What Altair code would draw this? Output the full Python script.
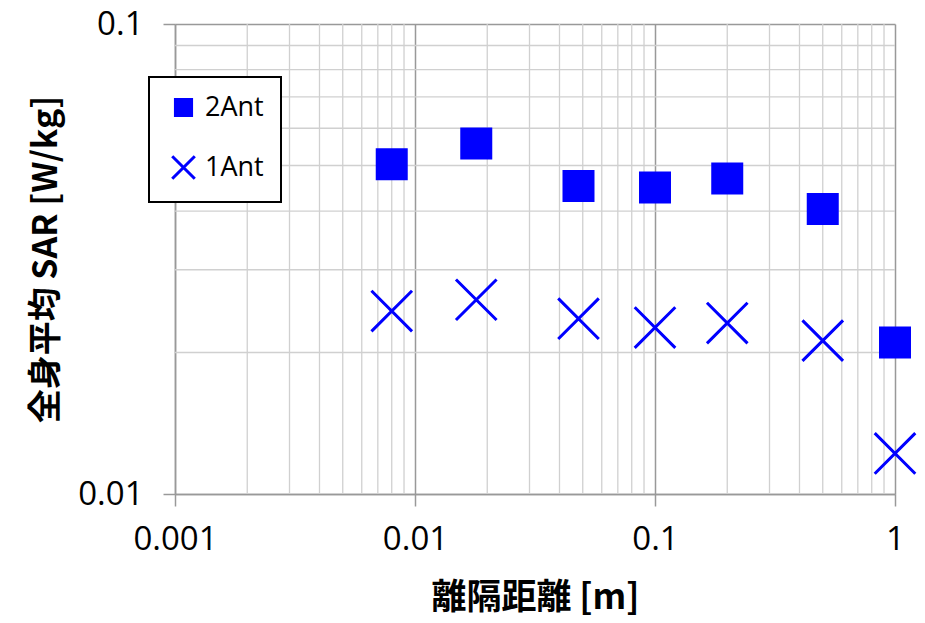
import altair as alt
import pandas as pd

# data
dist_2ant = [0.008, 0.018, 0.048, 0.1, 0.2, 0.5, 1.0]
sar_2ant = [0.0503, 0.0557, 0.0452, 0.0449, 0.0469, 0.0404, 0.021]
dist_1ant = [0.008, 0.018, 0.048, 0.1, 0.2, 0.5, 1.0]
sar_1ant = [0.0245, 0.0259, 0.0236, 0.0226, 0.0231, 0.0212, 0.0122]

series = ["2Ant", "1Ant"]
x_major = [0.001, 0.01, 0.1, 1]
y_major = [0.01, 0.1]
x_minor = [m * d for d in [0.001, 0.01, 0.1] for m in range(2, 10)]
y_minor = [m * 0.01 for m in range(2, 10)]

df = pd.DataFrame(
    {"dist": dist_2ant + dist_1ant,
     "sar": sar_2ant + sar_1ant,
     "series": ["2Ant"] * len(dist_2ant) + ["1Ant"] * len(dist_1ant)}
)

xscale = alt.Scale(type="log", domain=[0.001, 1], nice=False)
yscale = alt.Scale(type="log", domain=[0.01, 0.1], nice=False)

lab_font = "Open Sans"
cjk = "Noto Sans CJK JP"

xaxis = alt.Axis(
    values=x_major, format="~g", labelFont=lab_font, labelFontSize=33,
    labelColor="black", labelPadding=17, tickSize=12, tickColor="#999999",
    tickWidth=1.5, domainColor="#999999", domainWidth=1.5,
    grid=True, gridColor="#999999", gridWidth=1.5,
    title="離隔距離 [m]", titleFont=cjk, titleFontSize=35, titleFontWeight="bold",
    titleColor="black", titleX=360, titleY=103, titleBaseline="middle",
    labelFlush=False, labelOverlap=False,
)
yaxis = alt.Axis(
    values=y_major, format="~g", labelFont=lab_font, labelFontSize=33,
    labelColor="black", labelPadding=20, tickSize=12, tickColor="#999999",
    tickWidth=1.5, domainColor="#999999", domainWidth=1.5,
    grid=True, gridColor="#999999", gridWidth=1.5,
    title="全身平均 SAR [W/kg]", titleFont=cjk, titleFontSize=34,
    titleFontWeight="bold", titleColor="black", titleX=-129, titleY=235,
    titleAngle=-90, titleAlign="center", titleBaseline="middle",
    labelFlush=False, labelOverlap=False,
)

minor_x = alt.Chart(pd.DataFrame({"v": x_minor})).mark_rule(
    color="#d0d0d0", strokeWidth=1.3
).encode(x=alt.X("v:Q", scale=xscale, axis=xaxis))

minor_y = alt.Chart(pd.DataFrame({"v": y_minor})).mark_rule(
    color="#d0d0d0", strokeWidth=1.3
).encode(y=alt.Y("v:Q", scale=yscale, axis=yaxis))

cross_path = "M-1.4,-1.4L1.4,1.4M1.4,-1.4L-1.4,1.4"

points = alt.Chart(df).mark_point(
    filled=True, opacity=1, stroke="#0000ff", strokeWidth=3, size=841
).encode(
    x=alt.X("dist:Q", scale=xscale, axis=xaxis),
    y=alt.Y("sar:Q", scale=yscale, axis=yaxis),
    color=alt.Color(
        "series:N",
        scale=alt.Scale(domain=series, range=["#0000ff", "#0000ff"]),
        legend=alt.Legend(
            title=None, orient="none", legendX=-26, legendY=53,
            strokeColor="black", fillColor="white", padding=17,
            rowPadding=28, labelFont=lab_font, labelFontSize=27,
            labelColor="black", symbolSize=260, symbolStrokeWidth=3,
            symbolStrokeColor="#0000ff", symbolFillColor="#0000ff",
            labelOffset=8, symbolOffset=4, cornerRadius=0,
        ),
    ),
    shape=alt.Shape(
        "series:N",
        scale=alt.Scale(domain=series, range=["square", cross_path]),
        legend=alt.Legend(title=None),
    ),
)

chart = alt.layer(minor_x, minor_y, points).properties(
    width=720, height=470,
    autosize=alt.AutoSizeParams(type="none"),
    padding={"left": 167, "top": 16, "right": 22, "bottom": 121},
).configure_view(stroke=None).configure_legend(strokeWidth=2)

chart.save("out.html", embed_options={"renderer": "svg", "actions": False})
